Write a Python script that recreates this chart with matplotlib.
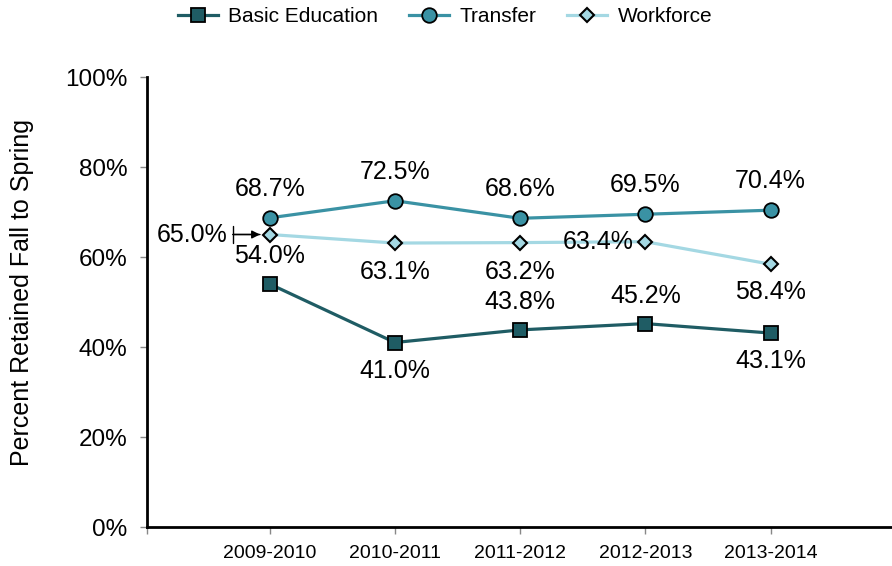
import matplotlib
matplotlib.use("Agg")
import numpy as np
import matplotlib.pyplot as plt

plt.rcParams['font.family'] = ['Liberation Sans', 'DejaVu Sans']

years = ['2009-2010', '2010-2011', '2011-2012', '2012-2013', '2013-2014']
basic = [54.0, 41.0, 43.8, 45.2, 43.1]
transfer = [68.7, 72.5, 68.6, 69.5, 70.4]
workforce = [65.0, 63.1, 63.2, 63.4, 58.4]

c_basic = '#1f5c64'
c_transfer = '#3a92a4'
c_work = '#a4d8e3'

fig = plt.figure(figsize=(8.92, 5.66), dpi=100)
ax = fig.add_axes([147/892, 39/566, 1 - 147/892, 450/566])

x = np.arange(len(years))
ax.plot(x, basic, color=c_basic, lw=2.3, marker='s', ms=9.5,
        mfc=c_basic, mec='black', mew=1.3, label='Basic Education', zorder=3)
ax.plot(x, transfer, color=c_transfer, lw=2.3, marker='o', ms=10.5,
        mfc=c_transfer, mec='black', mew=1.3, label='Transfer', zorder=3)
ax.plot(x, workforce, color=c_work, lw=2.3, marker='D', ms=7.5,
        mfc=c_work, mec='black', mew=1.5, label='Workforce', zorder=3)

fs = 18
def lab(xi, v, dy):
    ax.annotate(f'{v:.1f}%', (xi, v), xytext=(0, dy), textcoords='offset pixels',
                ha='center', va='center', fontsize=fs)

# basic: above for first/middle, below for others
for i, v in enumerate(basic):
    lab(i, v, 28 if i in (0, 2, 3) else -28)
for i, v in enumerate(transfer):
    lab(i, v, 29)
# workforce, first label has a callout arrow
ax.annotate(f'{workforce[0]:.1f}%', (0, workforce[0]), xytext=(-42, 0),
            textcoords='offset pixels', ha='right', va='center', fontsize=fs,
            arrowprops=dict(arrowstyle='-|>', color='black', lw=1,
                            shrinkA=2, shrinkB=7, mutation_scale=12))
ax.annotate('', (0, workforce[0]), xytext=(-37, 0), textcoords='offset pixels',
            arrowprops=dict(arrowstyle='|-|, widthA=0.6, widthB=0', color='black',
                            lw=1, shrinkA=0, shrinkB=7))
lab(1, workforce[1], -29)
lab(2, workforce[2], -29)
ax.annotate(f'{workforce[3]:.1f}%', (3, workforce[3]), xytext=(-12, 0),
            textcoords='offset pixels', ha='right', va='center', fontsize=fs)
lab(4, workforce[4], -28)

ax.set_xlim(-0.98, 4.97)
ax.set_ylim(0, 100)
ax.set_xticks(x)
ax.set_xticklabels(years, fontsize=14)
ax.set_xticks([-0.98], minor=True)
ax.set_yticks(np.arange(0, 101, 20))
ax.set_yticklabels([f'{t}%' for t in range(0, 101, 20)], fontsize=17.5)
ax.tick_params(axis='both', which='both', color='#888888', length=5, width=1)
ax.tick_params(axis='x', pad=8)
ax.tick_params(axis='y', pad=9)

for s in ['top', 'right']:
    ax.spines[s].set_visible(False)
for s in ['left', 'bottom']:
    ax.spines[s].set_linewidth(2)
    ax.spines[s].set_color('black')

ax.set_ylabel('Percent Retained Fall to Spring', fontsize=18)
ax.yaxis.set_label_coords(-0.152, 0.52)

fig.legend(loc='center', bbox_to_anchor=(0.499, 0.97), ncol=3, frameon=False,
           fontsize=15, handlelength=1.9, columnspacing=1.5, handletextpad=0.5)

fig.savefig('out.png', dpi=100)
